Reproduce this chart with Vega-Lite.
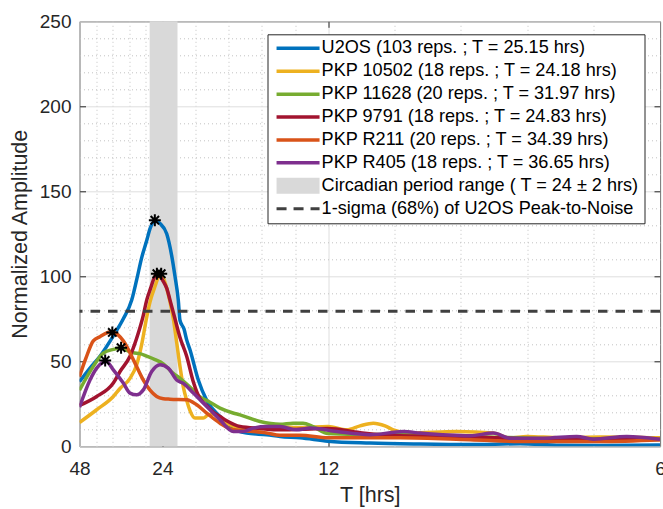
{
"$schema": "https://vega.github.io/schema/vega-lite/v6.json",
"width": 580.5, "height": 425,
"autosize": {"type": "none"},
"padding": {"left": 79.5, "top": 21.3, "right": 3, "bottom": 62.7},
"background": "white",
"config": {
  "font": "Liberation Sans",
  "view": {"stroke": "#262626", "strokeWidth": 1},
  "axis": {"labelFont": "Liberation Sans", "titleFont": "Liberation Sans", "labelColor": "#262626", "titleColor": "#262626", "titleFontWeight": "normal", "tickColor": "#262626", "domain": false},
  "legend": {"labelFont": "Liberation Sans", "labelFontSize": 18.1, "labelColor": "#000000", "labelLimit": 500, "padding": 5, "strokeColor": "#262626", "fillColor": "white", "rowPadding": 3.9, "symbolSize": 100, "symbolOffset": 0, "labelOffset": 31, "symbolStrokeWidth": 3.5}
},
"datasets": {
  "curves": [
    {"s":"U2OS (103 reps. ; T = 25.15 hrs)","f":0.020834,"a":38},
    {"s":"U2OS (103 reps. ; T = 25.15 hrs)","f":0.02347,"a":46},
    {"s":"U2OS (103 reps. ; T = 25.15 hrs)","f":0.02598,"a":53},
    {"s":"U2OS (103 reps. ; T = 25.15 hrs)","f":0.02933,"a":65},
    {"s":"U2OS (103 reps. ; T = 25.15 hrs)","f":0.03184,"a":75},
    {"s":"U2OS (103 reps. ; T = 25.15 hrs)","f":0.03395,"a":86},
    {"s":"U2OS (103 reps. ; T = 25.15 hrs)","f":0.0352,"a":98},
    {"s":"U2OS (103 reps. ; T = 25.15 hrs)","f":0.03646,"a":111},
    {"s":"U2OS (103 reps. ; T = 25.15 hrs)","f":0.03772,"a":121},
    {"s":"U2OS (103 reps. ; T = 25.15 hrs)","f":0.03855,"a":128},
    {"s":"U2OS (103 reps. ; T = 25.15 hrs)","f":0.0398,"a":132.5},
    {"s":"U2OS (103 reps. ; T = 25.15 hrs)","f":0.04106,"a":131},
    {"s":"U2OS (103 reps. ; T = 25.15 hrs)","f":0.04274,"a":125},
    {"s":"U2OS (103 reps. ; T = 25.15 hrs)","f":0.044,"a":112},
    {"s":"U2OS (103 reps. ; T = 25.15 hrs)","f":0.04482,"a":100},
    {"s":"U2OS (103 reps. ; T = 25.15 hrs)","f":0.04565,"a":86},
    {"s":"U2OS (103 reps. ; T = 25.15 hrs)","f":0.04608,"a":74},
    {"s":"U2OS (103 reps. ; T = 25.15 hrs)","f":0.04709,"a":69},
    {"s":"U2OS (103 reps. ; T = 25.15 hrs)","f":0.04776,"a":62.6},
    {"s":"U2OS (103 reps. ; T = 25.15 hrs)","f":0.04859,"a":56.8},
    {"s":"U2OS (103 reps. ; T = 25.15 hrs)","f":0.05068,"a":39},
    {"s":"U2OS (103 reps. ; T = 25.15 hrs)","f":0.05279,"a":27},
    {"s":"U2OS (103 reps. ; T = 25.15 hrs)","f":0.05613,"a":17.5},
    {"s":"U2OS (103 reps. ; T = 25.15 hrs)","f":0.05864,"a":11.6},
    {"s":"U2OS (103 reps. ; T = 25.15 hrs)","f":0.06284,"a":7.8},
    {"s":"U2OS (103 reps. ; T = 25.15 hrs)","f":0.06787,"a":6.8},
    {"s":"U2OS (103 reps. ; T = 25.15 hrs)","f":0.07121,"a":5.8},
    {"s":"U2OS (103 reps. ; T = 25.15 hrs)","f":0.07623,"a":5},
    {"s":"U2OS (103 reps. ; T = 25.15 hrs)","f":0.08327,"a":3},
    {"s":"U2OS (103 reps. ; T = 25.15 hrs)","f":0.09382,"a":1.9},
    {"s":"U2OS (103 reps. ; T = 25.15 hrs)","f":0.10638,"a":1.3},
    {"s":"U2OS (103 reps. ; T = 25.15 hrs)","f":0.11895,"a":1},
    {"s":"U2OS (103 reps. ; T = 25.15 hrs)","f":0.13151,"a":1.5},
    {"s":"U2OS (103 reps. ; T = 25.15 hrs)","f":0.14156,"a":0.6},
    {"s":"U2OS (103 reps. ; T = 25.15 hrs)","f":0.15161,"a":0.5},
    {"s":"U2OS (103 reps. ; T = 25.15 hrs)","f":0.166666,"a":0.8},

    {"s":"PKP 10502 (18 reps. ; T = 24.18 hrs)","f":0.020834,"a":14},
    {"s":"PKP 10502 (18 reps. ; T = 24.18 hrs)","f":0.02515,"a":21.5},
    {"s":"PKP 10502 (18 reps. ; T = 24.18 hrs)","f":0.02933,"a":29.3},
    {"s":"PKP 10502 (18 reps. ; T = 24.18 hrs)","f":0.03101,"a":34},
    {"s":"PKP 10502 (18 reps. ; T = 24.18 hrs)","f":0.03352,"a":40},
    {"s":"PKP 10502 (18 reps. ; T = 24.18 hrs)","f":0.0352,"a":48},
    {"s":"PKP 10502 (18 reps. ; T = 24.18 hrs)","f":0.03646,"a":60},
    {"s":"PKP 10502 (18 reps. ; T = 24.18 hrs)","f":0.03772,"a":76},
    {"s":"PKP 10502 (18 reps. ; T = 24.18 hrs)","f":0.03855,"a":85},
    {"s":"PKP 10502 (18 reps. ; T = 24.18 hrs)","f":0.0398,"a":94},
    {"s":"PKP 10502 (18 reps. ; T = 24.18 hrs)","f":0.04106,"a":101},
    {"s":"PKP 10502 (18 reps. ; T = 24.18 hrs)","f":0.04189,"a":99},
    {"s":"PKP 10502 (18 reps. ; T = 24.18 hrs)","f":0.04274,"a":93},
    {"s":"PKP 10502 (18 reps. ; T = 24.18 hrs)","f":0.04357,"a":85},
    {"s":"PKP 10502 (18 reps. ; T = 24.18 hrs)","f":0.0444,"a":75},
    {"s":"PKP 10502 (18 reps. ; T = 24.18 hrs)","f":0.04525,"a":61},
    {"s":"PKP 10502 (18 reps. ; T = 24.18 hrs)","f":0.04608,"a":47},
    {"s":"PKP 10502 (18 reps. ; T = 24.18 hrs)","f":0.04691,"a":35},
    {"s":"PKP 10502 (18 reps. ; T = 24.18 hrs)","f":0.04776,"a":27},
    {"s":"PKP 10502 (18 reps. ; T = 24.18 hrs)","f":0.04859,"a":21},
    {"s":"PKP 10502 (18 reps. ; T = 24.18 hrs)","f":0.04985,"a":16.6},
    {"s":"PKP 10502 (18 reps. ; T = 24.18 hrs)","f":0.05194,"a":16.6},
    {"s":"PKP 10502 (18 reps. ; T = 24.18 hrs)","f":0.05312,"a":18.5},
    {"s":"PKP 10502 (18 reps. ; T = 24.18 hrs)","f":0.05445,"a":19},
    {"s":"PKP 10502 (18 reps. ; T = 24.18 hrs)","f":0.05613,"a":16},
    {"s":"PKP 10502 (18 reps. ; T = 24.18 hrs)","f":0.05781,"a":13.6},
    {"s":"PKP 10502 (18 reps. ; T = 24.18 hrs)","f":0.06116,"a":10.7},
    {"s":"PKP 10502 (18 reps. ; T = 24.18 hrs)","f":0.0645,"a":9.7},
    {"s":"PKP 10502 (18 reps. ; T = 24.18 hrs)","f":0.06869,"a":11.6},
    {"s":"PKP 10502 (18 reps. ; T = 24.18 hrs)","f":0.07623,"a":11},
    {"s":"PKP 10502 (18 reps. ; T = 24.18 hrs)","f":0.08327,"a":11.6},
    {"s":"PKP 10502 (18 reps. ; T = 24.18 hrs)","f":0.08797,"a":9.7},
    {"s":"PKP 10502 (18 reps. ; T = 24.18 hrs)","f":0.09131,"a":12},
    {"s":"PKP 10502 (18 reps. ; T = 24.18 hrs)","f":0.09465,"a":13.6},
    {"s":"PKP 10502 (18 reps. ; T = 24.18 hrs)","f":0.09759,"a":12},
    {"s":"PKP 10502 (18 reps. ; T = 24.18 hrs)","f":0.09967,"a":9.7},
    {"s":"PKP 10502 (18 reps. ; T = 24.18 hrs)","f":0.10387,"a":7.8},
    {"s":"PKP 10502 (18 reps. ; T = 24.18 hrs)","f":0.1156,"a":8.7},
    {"s":"PKP 10502 (18 reps. ; T = 24.18 hrs)","f":0.1248,"a":7.8},
    {"s":"PKP 10502 (18 reps. ; T = 24.18 hrs)","f":0.129,"a":4.8},
    {"s":"PKP 10502 (18 reps. ; T = 24.18 hrs)","f":0.13319,"a":5.8},
    {"s":"PKP 10502 (18 reps. ; T = 24.18 hrs)","f":0.14156,"a":5},
    {"s":"PKP 10502 (18 reps. ; T = 24.18 hrs)","f":0.15161,"a":5.5},
    {"s":"PKP 10502 (18 reps. ; T = 24.18 hrs)","f":0.166666,"a":5},

    {"s":"PKP 11628 (20 reps. ; T = 31.97 hrs)","f":0.020834,"a":33},
    {"s":"PKP 11628 (20 reps. ; T = 31.97 hrs)","f":0.0243,"a":47},
    {"s":"PKP 11628 (20 reps. ; T = 31.97 hrs)","f":0.02681,"a":54.8},
    {"s":"PKP 11628 (20 reps. ; T = 31.97 hrs)","f":0.02933,"a":57},
    {"s":"PKP 11628 (20 reps. ; T = 31.97 hrs)","f":0.03101,"a":57.8},
    {"s":"PKP 11628 (20 reps. ; T = 31.97 hrs)","f":0.03269,"a":56.5},
    {"s":"PKP 11628 (20 reps. ; T = 31.97 hrs)","f":0.03435,"a":55},
    {"s":"PKP 11628 (20 reps. ; T = 31.97 hrs)","f":0.03603,"a":54.5},
    {"s":"PKP 11628 (20 reps. ; T = 31.97 hrs)","f":0.03772,"a":53},
    {"s":"PKP 11628 (20 reps. ; T = 31.97 hrs)","f":0.0398,"a":51},
    {"s":"PKP 11628 (20 reps. ; T = 31.97 hrs)","f":0.04189,"a":48.5},
    {"s":"PKP 11628 (20 reps. ; T = 31.97 hrs)","f":0.04432,"a":43},
    {"s":"PKP 11628 (20 reps. ; T = 31.97 hrs)","f":0.04608,"a":40},
    {"s":"PKP 11628 (20 reps. ; T = 31.97 hrs)","f":0.04942,"a":33},
    {"s":"PKP 11628 (20 reps. ; T = 31.97 hrs)","f":0.05111,"a":29},
    {"s":"PKP 11628 (20 reps. ; T = 31.97 hrs)","f":0.05279,"a":27},
    {"s":"PKP 11628 (20 reps. ; T = 31.97 hrs)","f":0.05613,"a":22.5},
    {"s":"PKP 11628 (20 reps. ; T = 31.97 hrs)","f":0.0594,"a":19.6},
    {"s":"PKP 11628 (20 reps. ; T = 31.97 hrs)","f":0.06116,"a":18.5},
    {"s":"PKP 11628 (20 reps. ; T = 31.97 hrs)","f":0.06618,"a":14.6},
    {"s":"PKP 11628 (20 reps. ; T = 31.97 hrs)","f":0.07121,"a":13},
    {"s":"PKP 11628 (20 reps. ; T = 31.97 hrs)","f":0.07447,"a":13.6},
    {"s":"PKP 11628 (20 reps. ; T = 31.97 hrs)","f":0.07699,"a":13.6},
    {"s":"PKP 11628 (20 reps. ; T = 31.97 hrs)","f":0.0795,"a":11.6},
    {"s":"PKP 11628 (20 reps. ; T = 31.97 hrs)","f":0.08327,"a":7.5},
    {"s":"PKP 11628 (20 reps. ; T = 31.97 hrs)","f":0.09131,"a":7},
    {"s":"PKP 11628 (20 reps. ; T = 31.97 hrs)","f":0.10219,"a":6.8},
    {"s":"PKP 11628 (20 reps. ; T = 31.97 hrs)","f":0.11643,"a":5.8},
    {"s":"PKP 11628 (20 reps. ; T = 31.97 hrs)","f":0.13151,"a":5},
    {"s":"PKP 11628 (20 reps. ; T = 31.97 hrs)","f":0.14156,"a":4.5},
    {"s":"PKP 11628 (20 reps. ; T = 31.97 hrs)","f":0.15161,"a":4.5},
    {"s":"PKP 11628 (20 reps. ; T = 31.97 hrs)","f":0.166666,"a":4},

    {"s":"PKP 9791 (18 reps. ; T = 24.83 hrs)","f":0.020834,"a":24},
    {"s":"PKP 9791 (18 reps. ; T = 24.83 hrs)","f":0.02515,"a":29.3},
    {"s":"PKP 9791 (18 reps. ; T = 24.83 hrs)","f":0.02933,"a":37.2},
    {"s":"PKP 9791 (18 reps. ; T = 24.83 hrs)","f":0.03101,"a":44},
    {"s":"PKP 9791 (18 reps. ; T = 24.83 hrs)","f":0.03352,"a":53},
    {"s":"PKP 9791 (18 reps. ; T = 24.83 hrs)","f":0.03561,"a":66.6},
    {"s":"PKP 9791 (18 reps. ; T = 24.83 hrs)","f":0.03686,"a":77},
    {"s":"PKP 9791 (18 reps. ; T = 24.83 hrs)","f":0.03772,"a":86},
    {"s":"PKP 9791 (18 reps. ; T = 24.83 hrs)","f":0.03855,"a":92},
    {"s":"PKP 9791 (18 reps. ; T = 24.83 hrs)","f":0.04023,"a":101},
    {"s":"PKP 9791 (18 reps. ; T = 24.83 hrs)","f":0.04106,"a":100},
    {"s":"PKP 9791 (18 reps. ; T = 24.83 hrs)","f":0.04189,"a":97},
    {"s":"PKP 9791 (18 reps. ; T = 24.83 hrs)","f":0.04274,"a":93},
    {"s":"PKP 9791 (18 reps. ; T = 24.83 hrs)","f":0.04357,"a":86},
    {"s":"PKP 9791 (18 reps. ; T = 24.83 hrs)","f":0.04482,"a":75},
    {"s":"PKP 9791 (18 reps. ; T = 24.83 hrs)","f":0.04608,"a":64},
    {"s":"PKP 9791 (18 reps. ; T = 24.83 hrs)","f":0.04776,"a":53},
    {"s":"PKP 9791 (18 reps. ; T = 24.83 hrs)","f":0.04942,"a":38},
    {"s":"PKP 9791 (18 reps. ; T = 24.83 hrs)","f":0.05111,"a":28},
    {"s":"PKP 9791 (18 reps. ; T = 24.83 hrs)","f":0.05279,"a":24},
    {"s":"PKP 9791 (18 reps. ; T = 24.83 hrs)","f":0.05445,"a":20},
    {"s":"PKP 9791 (18 reps. ; T = 24.83 hrs)","f":0.05613,"a":17.5},
    {"s":"PKP 9791 (18 reps. ; T = 24.83 hrs)","f":0.05781,"a":15},
    {"s":"PKP 9791 (18 reps. ; T = 24.83 hrs)","f":0.06116,"a":11.6},
    {"s":"PKP 9791 (18 reps. ; T = 24.83 hrs)","f":0.06618,"a":10.5},
    {"s":"PKP 9791 (18 reps. ; T = 24.83 hrs)","f":0.07121,"a":9.7},
    {"s":"PKP 9791 (18 reps. ; T = 24.83 hrs)","f":0.07623,"a":10},
    {"s":"PKP 9791 (18 reps. ; T = 24.83 hrs)","f":0.08327,"a":10.5},
    {"s":"PKP 9791 (18 reps. ; T = 24.83 hrs)","f":0.09131,"a":8},
    {"s":"PKP 9791 (18 reps. ; T = 24.83 hrs)","f":0.10387,"a":6},
    {"s":"PKP 9791 (18 reps. ; T = 24.83 hrs)","f":0.11643,"a":5.8},
    {"s":"PKP 9791 (18 reps. ; T = 24.83 hrs)","f":0.13151,"a":4.5},
    {"s":"PKP 9791 (18 reps. ; T = 24.83 hrs)","f":0.14156,"a":4},
    {"s":"PKP 9791 (18 reps. ; T = 24.83 hrs)","f":0.15161,"a":4},
    {"s":"PKP 9791 (18 reps. ; T = 24.83 hrs)","f":0.166666,"a":4},

    {"s":"PKP R211 (20 reps. ; T = 34.39 hrs)","f":0.020834,"a":41},
    {"s":"PKP R211 (20 reps. ; T = 34.39 hrs)","f":0.02247,"a":52},
    {"s":"PKP R211 (20 reps. ; T = 34.39 hrs)","f":0.0243,"a":62},
    {"s":"PKP R211 (20 reps. ; T = 34.39 hrs)","f":0.02598,"a":64.5},
    {"s":"PKP R211 (20 reps. ; T = 34.39 hrs)","f":0.02892,"a":67.5},
    {"s":"PKP R211 (20 reps. ; T = 34.39 hrs)","f":0.03051,"a":65.5},
    {"s":"PKP R211 (20 reps. ; T = 34.39 hrs)","f":0.03184,"a":62},
    {"s":"PKP R211 (20 reps. ; T = 34.39 hrs)","f":0.03435,"a":51},
    {"s":"PKP R211 (20 reps. ; T = 34.39 hrs)","f":0.03686,"a":39},
    {"s":"PKP R211 (20 reps. ; T = 34.39 hrs)","f":0.03855,"a":33},
    {"s":"PKP R211 (20 reps. ; T = 34.39 hrs)","f":0.04023,"a":29.3},
    {"s":"PKP R211 (20 reps. ; T = 34.39 hrs)","f":0.04189,"a":28},
    {"s":"PKP R211 (20 reps. ; T = 34.39 hrs)","f":0.04357,"a":27.7},
    {"s":"PKP R211 (20 reps. ; T = 34.39 hrs)","f":0.04776,"a":27.4},
    {"s":"PKP R211 (20 reps. ; T = 34.39 hrs)","f":0.05028,"a":24.4},
    {"s":"PKP R211 (20 reps. ; T = 34.39 hrs)","f":0.05279,"a":19.5},
    {"s":"PKP R211 (20 reps. ; T = 34.39 hrs)","f":0.05613,"a":13.6},
    {"s":"PKP R211 (20 reps. ; T = 34.39 hrs)","f":0.05947,"a":9.7},
    {"s":"PKP R211 (20 reps. ; T = 34.39 hrs)","f":0.0645,"a":8.7},
    {"s":"PKP R211 (20 reps. ; T = 34.39 hrs)","f":0.06787,"a":7.8},
    {"s":"PKP R211 (20 reps. ; T = 34.39 hrs)","f":0.07121,"a":6.5},
    {"s":"PKP R211 (20 reps. ; T = 34.39 hrs)","f":0.07623,"a":6.5},
    {"s":"PKP R211 (20 reps. ; T = 34.39 hrs)","f":0.08327,"a":5},
    {"s":"PKP R211 (20 reps. ; T = 34.39 hrs)","f":0.10136,"a":5},
    {"s":"PKP R211 (20 reps. ; T = 34.39 hrs)","f":0.11895,"a":3.9},
    {"s":"PKP R211 (20 reps. ; T = 34.39 hrs)","f":0.13327,"a":2.8},
    {"s":"PKP R211 (20 reps. ; T = 34.39 hrs)","f":0.15161,"a":2.8},
    {"s":"PKP R211 (20 reps. ; T = 34.39 hrs)","f":0.166666,"a":3.9},

    {"s":"PKP R405 (18 reps. ; T = 36.65 hrs)","f":0.020834,"a":23},
    {"s":"PKP R405 (18 reps. ; T = 36.65 hrs)","f":0.02347,"a":39},
    {"s":"PKP R405 (18 reps. ; T = 36.65 hrs)","f":0.02515,"a":46},
    {"s":"PKP R405 (18 reps. ; T = 36.65 hrs)","f":0.02681,"a":49.5},
    {"s":"PKP R405 (18 reps. ; T = 36.65 hrs)","f":0.02749,"a":50},
    {"s":"PKP R405 (18 reps. ; T = 36.65 hrs)","f":0.02933,"a":45},
    {"s":"PKP R405 (18 reps. ; T = 36.65 hrs)","f":0.03184,"a":37.2},
    {"s":"PKP R405 (18 reps. ; T = 36.65 hrs)","f":0.03352,"a":31.3},
    {"s":"PKP R405 (18 reps. ; T = 36.65 hrs)","f":0.0352,"a":30.3},
    {"s":"PKP R405 (18 reps. ; T = 36.65 hrs)","f":0.03686,"a":33.2},
    {"s":"PKP R405 (18 reps. ; T = 36.65 hrs)","f":0.03897,"a":44},
    {"s":"PKP R405 (18 reps. ; T = 36.65 hrs)","f":0.04106,"a":48},
    {"s":"PKP R405 (18 reps. ; T = 36.65 hrs)","f":0.04314,"a":46},
    {"s":"PKP R405 (18 reps. ; T = 36.65 hrs)","f":0.04525,"a":39},
    {"s":"PKP R405 (18 reps. ; T = 36.65 hrs)","f":0.04691,"a":37},
    {"s":"PKP R405 (18 reps. ; T = 36.65 hrs)","f":0.04942,"a":31.3},
    {"s":"PKP R405 (18 reps. ; T = 36.65 hrs)","f":0.05279,"a":23.4},
    {"s":"PKP R405 (18 reps. ; T = 36.65 hrs)","f":0.05613,"a":15.6},
    {"s":"PKP R405 (18 reps. ; T = 36.65 hrs)","f":0.05947,"a":8.7},
    {"s":"PKP R405 (18 reps. ; T = 36.65 hrs)","f":0.06199,"a":8.7},
    {"s":"PKP R405 (18 reps. ; T = 36.65 hrs)","f":0.0645,"a":10.7},
    {"s":"PKP R405 (18 reps. ; T = 36.65 hrs)","f":0.06787,"a":11.6},
    {"s":"PKP R405 (18 reps. ; T = 36.65 hrs)","f":0.07121,"a":11.6},
    {"s":"PKP R405 (18 reps. ; T = 36.65 hrs)","f":0.0754,"a":9.7},
    {"s":"PKP R405 (18 reps. ; T = 36.65 hrs)","f":0.07874,"a":10.7},
    {"s":"PKP R405 (18 reps. ; T = 36.65 hrs)","f":0.08545,"a":8.7},
    {"s":"PKP R405 (18 reps. ; T = 36.65 hrs)","f":0.09382,"a":6.8},
    {"s":"PKP R405 (18 reps. ; T = 36.65 hrs)","f":0.10219,"a":8.7},
    {"s":"PKP R405 (18 reps. ; T = 36.65 hrs)","f":0.10638,"a":7.8},
    {"s":"PKP R405 (18 reps. ; T = 36.65 hrs)","f":0.11895,"a":6.2},
    {"s":"PKP R405 (18 reps. ; T = 36.65 hrs)","f":0.1248,"a":7.8},
    {"s":"PKP R405 (18 reps. ; T = 36.65 hrs)","f":0.129,"a":4.8},
    {"s":"PKP R405 (18 reps. ; T = 36.65 hrs)","f":0.13736,"a":4.8},
    {"s":"PKP R405 (18 reps. ; T = 36.65 hrs)","f":0.14575,"a":5.8},
    {"s":"PKP R405 (18 reps. ; T = 36.65 hrs)","f":0.14993,"a":4.2},
    {"s":"PKP R405 (18 reps. ; T = 36.65 hrs)","f":0.15832,"a":5.8},
    {"s":"PKP R405 (18 reps. ; T = 36.65 hrs)","f":0.166666,"a":4.2}
  ],
  "peaks": [
    {"f":0.039761,"a":133},
    {"f":0.041356,"a":101.5},
    {"f":0.031279,"a":58},
    {"f":0.040274,"a":101.5},
    {"f":0.029078,"a":67},
    {"f":0.027285,"a":50.5}
  ]
},
"layer": [
  {
    "data": {"values": [{"f0": 0.0384615, "f1": 0.0454545, "s": "Circadian period range ( T = 24 ± 2 hrs)"}]},
    "mark": {"type": "rect", "opacity": 1},
    "encoding": {
      "x": {"field": "f0", "type": "quantitative", "axis": null},
      "x2": {"field": "f1"},
      "color": {"field": "s", "type": "nominal"}
    }
  },
  {
    "data": {"name": "curves"},
    "mark": {"type": "line", "strokeWidth": 3.5, "interpolate": "monotone", "clip": true},
    "encoding": {
      "x": {"field": "f", "type": "quantitative",
        "scale": {"domain": [0.0208333, 0.1666667], "nice": false, "zero": false},
        "axis": {"orient": "bottom", "title": "T [hrs]", "titleFontSize": 21.5, "titlePadding": 6,
          "values": [0.0208333, 0.025, 0.0291667, 0.0333333, 0.0375, 0.0416667, 0.05, 0.0583333, 0.0666667, 0.075, 0.0833333, 0.1, 0.1166667, 0.1333333, 0.15, 0.1666667],
          "labelExpr": "(round(1/datum.value)===48 || round(1/datum.value)===24 || round(1/datum.value)===12 || round(1/datum.value)===6) ? '' + round(1/datum.value) : ''",
          "labelFontSize": 19, "labelFlush": false, "labelOverlap": false, "labelPadding": 19,
          "grid": true,
          "gridDash": {"condition": {"test": "round(1/datum.value)===48 || round(1/datum.value)===24 || round(1/datum.value)===12 || round(1/datum.value)===6", "value": []}, "value": [1, 3]},
          "gridColor": {"condition": {"test": "round(1/datum.value)===48 || round(1/datum.value)===24 || round(1/datum.value)===12 || round(1/datum.value)===6", "value": "#dedede"}, "value": "#c2c2c2"},
          "tickOpacity": {"condition": {"test": "round(1/datum.value)===24 || round(1/datum.value)===12", "value": 1}, "value": 0},
          "tickSize": -6}},
      "y": {"field": "a", "type": "quantitative",
        "scale": {"domain": [0, 250], "nice": false},
        "axis": {"orient": "left", "title": "Normalized Amplitude", "titleFontSize": 21.5, "titlePadding": 8,
          "values": [0,10,20,30,40,50,60,70,80,90,100,110,120,130,140,150,160,170,180,190,200,210,220,230,240,250],
          "labelExpr": "datum.value % 50 === 0 ? datum.label : ''",
          "labelFontSize": 19, "labelOverlap": false, "labelPadding": 14.5,
          "grid": true,
          "gridDash": {"condition": {"test": "datum.value % 50 === 0", "value": []}, "value": [1, 3]},
          "gridColor": {"condition": {"test": "datum.value % 50 === 0", "value": "#dedede"}, "value": "#c2c2c2"},
          "tickOpacity": {"condition": {"test": "datum.value % 50 === 0 && datum.value > 0 && datum.value < 250", "value": 1}, "value": 0},
          "tickSize": -6}},
      "color": {"field": "s", "type": "nominal",
        "scale": {
          "domain": ["U2OS (103 reps. ; T = 25.15 hrs)", "PKP 10502 (18 reps. ; T = 24.18 hrs)", "PKP 11628 (20 reps. ; T = 31.97 hrs)", "PKP 9791 (18 reps. ; T = 24.83 hrs)", "PKP R211 (20 reps. ; T = 34.39 hrs)", "PKP R405 (18 reps. ; T = 36.65 hrs)", "Circadian period range ( T = 24 ± 2 hrs)", "1-sigma (68%) of U2OS Peak-to-Noise"],
          "range": ["#0072BD", "#EDB120", "#77AC30", "#A2142F", "#D95319", "#7E2F8E", "#d9d9d9", "#404040"]},
        "legend": {"title": null, "orient": "none", "legendX": 188, "legendY": 13,
          "encode": {"symbols": {"update": {
            "shape": {"signal": "datum.value === 'Circadian period range ( T = 24 ± 2 hrs)' ? 'M-1,-1.6H7.6V1.6H-1Z' : (datum.value === '1-sigma (68%) of U2OS Peak-to-Noise' ? 'M-1,0H1M2.4,0H4.4M5.8,0H7.6' : 'M-1,0H7.6')"},
            "fill": {"signal": "datum.value === 'Circadian period range ( T = 24 ± 2 hrs)' ? '#d9d9d9' : 'transparent'"},
            "stroke": [{"test": "datum.value === 'Circadian period range ( T = 24 ± 2 hrs)'", "value": null}, {"scale": "color", "field": "value"}],
            "strokeWidth": {"signal": "datum.value === 'Circadian period range ( T = 24 ± 2 hrs)' ? 0 : (datum.value === '1-sigma (68%) of U2OS Peak-to-Noise' ? 3 : 3.5)"},
            "opacity": {"value": 1}
          }}}}}
    }
  },
  {
    "data": {"values": [{"v": 79.5, "s": "1-sigma (68%) of U2OS Peak-to-Noise"}]},
    "mark": {"type": "rule", "strokeWidth": 3, "strokeDash": [9.5, 8]},
    "encoding": {
      "y": {"field": "v", "type": "quantitative", "axis": null},
      "color": {"field": "s", "type": "nominal"}
    }
  },
  {
    "data": {"name": "peaks"},
    "mark": {"type": "point", "shape": "M-1,0H1M0,-1V1M-0.7,-0.7L0.7,0.7M-0.7,0.7L0.7,-0.7", "size": 144, "stroke": "#000000", "strokeWidth": 2, "filled": false, "opacity": 1},
    "encoding": {
      "x": {"field": "f", "type": "quantitative", "axis": {"orient": "top", "values": [0.0416667, 0.0833333], "labels": false, "title": null, "grid": false, "tickSize": -6}},
      "y": {"field": "a", "type": "quantitative", "axis": {"orient": "right", "values": [50, 100, 150, 200], "labels": false, "title": null, "grid": false, "tickSize": -6}}
    }
  }
],
"resolve": {"axis": {"x": "independent", "y": "independent"}}
}
